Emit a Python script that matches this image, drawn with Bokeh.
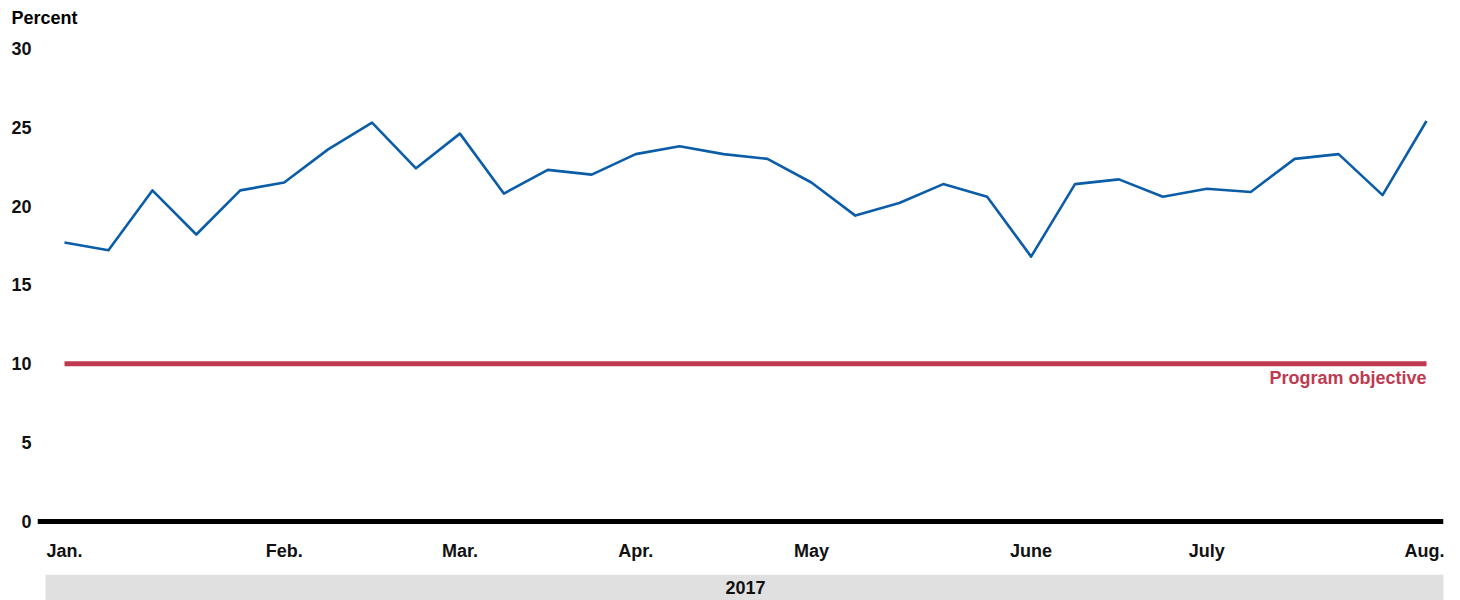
from bokeh.plotting import figure
from bokeh.models import FixedTicker, Span, Label, Range1d, LinearAxis
from bokeh.layouts import column
from bokeh.embed import file_html
from bokeh.resources import INLINE

# Weekly observations, Jan.–Aug. 2017
week_index = list(range(32))
percent = [17.7, 17.2, 21.0, 18.2, 21.0, 21.5, 23.6, 25.3, 22.4, 24.6, 20.8,
           22.3, 22.0, 23.3, 23.8, 23.3, 23.0, 21.5, 19.4, 20.2, 21.4, 20.6,
           16.8, 21.4, 21.7, 20.6, 21.1, 20.9, 23.0, 23.3, 20.7, 25.4]
objective_value = 10
objective_label = "Program objective"
month_ticks = [0, 5, 9, 13, 17, 22, 26, 31]
month_labels = ["Jan.", "Feb.", "Mar.", "Apr.", "May", "June", "July", "Aug."]
y_ticks = [0, 5, 10, 15, 20, 25, 30]
year_label = "2017"
y_title = "Percent"

FONT = "Liberation Sans"
BLUE = "#0B5DA8"
RED = "#BF3A50"

FRAME_L, FRAME_R = 37, 1443   # frame edges in page pixels

p = figure(width=1444, height=574, output_backend="svg", toolbar_location=None,
           x_range=Range1d(-0.6145, 31.387), y_range=Range1d(-0.571, 30.507),
           min_border_left=37, min_border_right=1, min_border_top=40,
           min_border_bottom=44)
p.outline_line_color = None
p.grid.grid_line_color = None
p.background_fill_color = "white"
p.border_fill_color = "white"

# y axis
ya = p.left[0]
ya.ticker = FixedTicker(ticks=y_ticks)
ya.axis_line_color = None
ya.major_tick_line_color = None
ya.minor_tick_line_color = None
ya.major_tick_out = 0
ya.major_tick_in = 0
ya.major_label_standoff = 6
ya.major_label_text_font = FONT
ya.major_label_text_font_style = "bold"
ya.major_label_text_font_size = "18px"
ya.major_label_text_color = "#111111"

# x axis (months)
xa = p.below[0]
xa.ticker = FixedTicker(ticks=month_ticks)
xa.major_label_overrides = {t: l for t, l in zip(month_ticks, month_labels)}
xa.axis_line_color = None
xa.major_tick_line_color = None
xa.minor_tick_line_color = None
xa.major_tick_out = 0
xa.major_tick_in = 0
xa.major_label_standoff = 10
xa.major_label_text_font = FONT
xa.major_label_text_font_style = "bold"
xa.major_label_text_font_size = "18px"
xa.major_label_text_color = "#111111"

# "Percent" unit title, drawn as the label of an axis above the frame
p.extra_x_ranges = {"px": Range1d(FRAME_L, FRAME_R)}
top_axis = LinearAxis(x_range_name="px", ticker=FixedTicker(ticks=[44]),
                      major_label_overrides={44: y_title})
top_axis.axis_line_color = None
top_axis.major_tick_line_color = None
top_axis.minor_tick_line_color = None
top_axis.major_tick_out = 0
top_axis.major_tick_in = 0
top_axis.major_label_standoff = 13
top_axis.major_label_text_font = FONT
top_axis.major_label_text_font_style = "bold"
top_axis.major_label_text_font_size = "18px"
top_axis.major_label_text_color = "black"
p.add_layout(top_axis, "above")

# zero baseline
p.add_layout(Span(location=0, dimension="width", line_color="black", line_width=5))

# objective line
p.line([week_index[0], week_index[-1]], [objective_value, objective_value],
       line_color=RED, line_width=5)
p.add_layout(Label(x=week_index[-1], y=objective_value, text=objective_label,
                   text_align="right", text_baseline="top", y_offset=-4,
                   text_font=FONT, text_font_style="bold", text_font_size="18px",
                   text_color=RED))

# data series
p.line(week_index, percent, line_color=BLUE, line_width=2.6, line_join="round")

# year band (its x range is in page pixels, aligned with the main frame)
BAND_L, BAND_R = 45, 1445
band = figure(width=1444, height=26, output_backend="svg", toolbar_location=None,
              x_range=Range1d(FRAME_L, FRAME_R), y_range=Range1d(0, 1),
              min_border_left=37, min_border_right=1, min_border_top=0,
              min_border_bottom=0)
band.axis.visible = False
band.grid.grid_line_color = None
band.outline_line_color = None
band.background_fill_color = "white"
band.border_fill_color = "white"
band.quad(left=[BAND_L], right=[BAND_R], bottom=[0], top=[1],
          fill_color="#E0E0E0", line_color=None)
band.add_layout(Label(x=(BAND_L + BAND_R) / 2, y=0.5, text=year_label,
                      text_align="center", text_baseline="middle", text_font=FONT,
                      text_font_style="bold", text_font_size="18px",
                      text_color="#111111"))

layout = column(p, band, spacing=0)
open("out.html", "w").write(file_html(layout, INLINE))
